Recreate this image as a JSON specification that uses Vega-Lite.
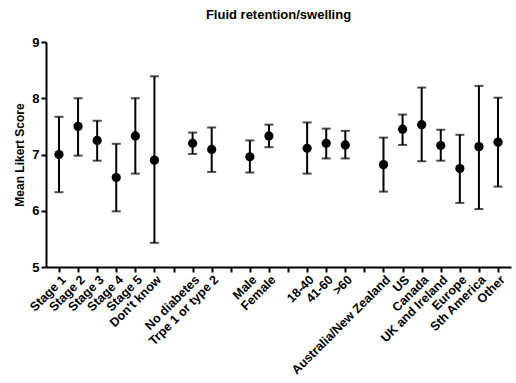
{
  "$schema": "https://vega.github.io/schema/vega-lite/v6.json",
  "autosize": {"type": "none"},
  "width": 465,
  "height": 225,
  "padding": {"left": 46, "top": 42, "right": 5, "bottom": 116},
  "title": {"text": "Fluid retention/swelling", "font": "Liberation Sans", "fontSize": 13, "fontWeight": "bold", "color": "black", "anchor": "middle", "offset": 14},
  "config": {"view": {"stroke": null}, "font": "Liberation Sans"},
  "data": {"values": [
    {"group": "Stage 1", "mean": 7.0, "lo": 6.33, "hi": 7.67},
    {"group": "Stage 2", "mean": 7.5, "lo": 6.98, "hi": 8.0},
    {"group": "Stage 3", "mean": 7.25, "lo": 6.89, "hi": 7.6},
    {"group": "Stage 4", "mean": 6.59, "lo": 5.99, "hi": 7.19},
    {"group": "Stage 5", "mean": 7.33, "lo": 6.66, "hi": 8.0},
    {"group": "Don't know", "mean": 6.9, "lo": 5.43, "hi": 8.39},
    {"group": "No diabetes", "mean": 7.2, "lo": 7.01, "hi": 7.39},
    {"group": "Trpe 1 or type 2", "mean": 7.09, "lo": 6.69, "hi": 7.48},
    {"group": "Male", "mean": 6.96, "lo": 6.68, "hi": 7.25},
    {"group": "Female", "mean": 7.33, "lo": 7.13, "hi": 7.53},
    {"group": "18-40", "mean": 7.11, "lo": 6.66, "hi": 7.57},
    {"group": "41-60", "mean": 7.2, "lo": 6.93, "hi": 7.46},
    {"group": ">60", "mean": 7.17, "lo": 6.93, "hi": 7.42},
    {"group": "Australia/New Zealand", "mean": 6.82, "lo": 6.34, "hi": 7.3},
    {"group": "US", "mean": 7.45, "lo": 7.17, "hi": 7.71},
    {"group": "Canada", "mean": 7.53, "lo": 6.88, "hi": 8.19},
    {"group": "UK and Ireland", "mean": 7.16, "lo": 6.89, "hi": 7.44},
    {"group": "Europe", "mean": 6.75, "lo": 6.14, "hi": 7.35},
    {"group": "Sth America", "mean": 7.14, "lo": 6.03, "hi": 8.22},
    {"group": "Other", "mean": 7.22, "lo": 6.43, "hi": 8.01}
  ]},
  "encoding": {
    "x": {
      "field": "group", "type": "nominal",
      "scale": {"type": "point", "padding": 0.68, "domain": ["Stage 1", "Stage 2", "Stage 3", "Stage 4", "Stage 5", "Don't know", " ", "No diabetes", "Trpe 1 or type 2", "  ", "Male", "Female", "   ", "18-40", "41-60", ">60", "    ", "Australia/New Zealand", "US", "Canada", "UK and Ireland", "Europe", "Sth America", "Other"]},
      "axis": {"title": null, "labelAngle": -45, "labelAlign": "right", "labelBaseline": "top", "labelFont": "Liberation Sans", "labelFontSize": 12.5, "labelFontWeight": "bold", "labelColor": "black", "labelPadding": 1, "labelOverlap": false, "domainColor": "black", "domainWidth": 2, "tickColor": "black", "tickWidth": 2, "tickSize": 5, "grid": false}
    }
  },
  "layer": [
    {
      "mark": {"type": "rule", "color": "black", "strokeWidth": 2},
      "encoding": {
        "y": {"field": "lo", "type": "quantitative", "scale": {"domain": [5, 9], "nice": false, "zero": false},
          "axis": {"title": "Mean Likert Score", "titleFont": "Liberation Sans", "titleFontSize": 12, "titleFontWeight": "bold", "titleColor": "black", "titlePadding": 5, "values": [5, 6, 7, 8, 9], "format": "d", "labelFont": "Liberation Sans", "labelFontSize": 13, "labelFontWeight": "bold", "labelColor": "black", "labelPadding": 2, "domainColor": "black", "domainWidth": 2, "tickColor": "black", "tickWidth": 2, "tickSize": 5, "grid": false}},
        "y2": {"field": "hi"}
      }
    },
    {
      "mark": {"type": "tick", "color": "black", "size": 9, "thickness": 2, "orient": "horizontal"},
      "encoding": {"y": {"field": "lo", "type": "quantitative"}}
    },
    {
      "mark": {"type": "tick", "color": "black", "size": 9, "thickness": 2, "orient": "horizontal"},
      "encoding": {"y": {"field": "hi", "type": "quantitative"}}
    },
    {
      "mark": {"type": "point", "filled": true, "color": "black", "opacity": 1, "size": 85},
      "encoding": {"y": {"field": "mean", "type": "quantitative"}}
    }
  ]
}
